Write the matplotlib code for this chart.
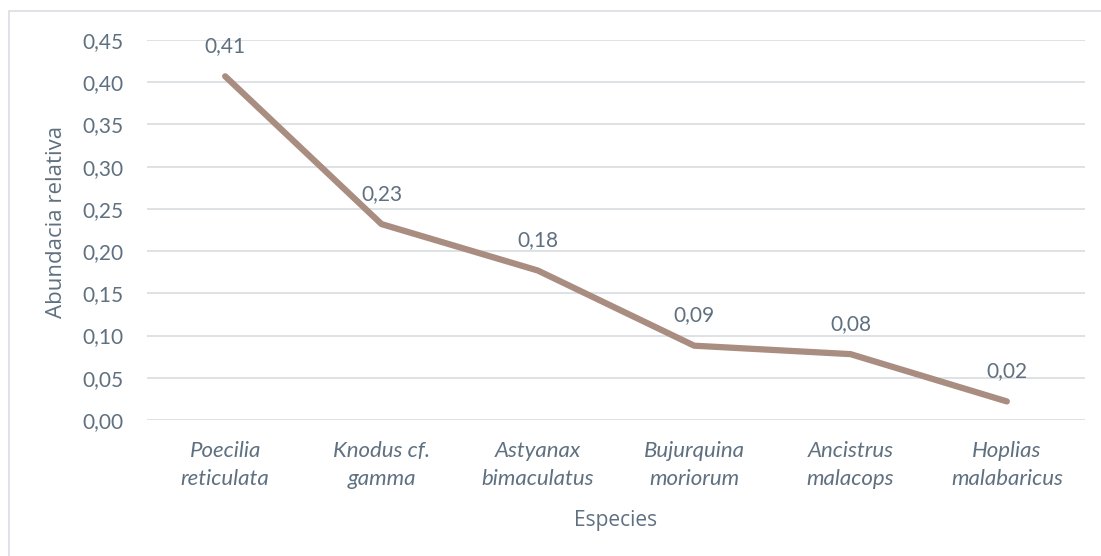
import matplotlib
matplotlib.use("Agg")
import matplotlib.pyplot as plt
from matplotlib.patches import Rectangle

species = ["Poecilia\nreticulata", "Knodus cf.\ngamma", "Astyanax\nbimaculatus",
           "Bujurquina\nmoriorum", "Ancistrus\nmalacops", "Hoplias\nmalabaricus"]
abundance = [0.407, 0.232, 0.177, 0.088, 0.078, 0.022]
labels = ["0,41", "0,23", "0,18", "0,09", "0,08", "0,02"]
yticks = [0.00, 0.05, 0.10, 0.15, 0.20, 0.25, 0.30, 0.35, 0.40, 0.45]

txt = "#5F7080"
plt.rcParams['font.family'] = ['Lato', 'DejaVu Sans']

W, H = 1101, 556
fig = plt.figure(figsize=(W/100, H/100), dpi=100)
fig.patches.append(Rectangle((9/W, -0.1), 1.2, 1 - 11/H + 0.1, transform=fig.transFigure,
                             fill=False, edgecolor="#D9DDE1", linewidth=1.2))
ax = fig.add_axes([147/W, 1 - 420/H, (1085 - 147)/W, (420 - 40)/H])

x = list(range(len(species)))
ax.plot(x, abundance, color="#A88D80", linewidth=4.5, solid_capstyle="round", solid_joinstyle="round", zorder=3)
for xi, v, l in zip(x, abundance, labels):
    ax.annotate(l, (xi, v), xytext=(0, 14.5), textcoords="offset points", ha="center", va="bottom",
                fontsize=15, color=txt)

ax.set_xlim(-0.5, len(species) - 0.5)
ax.set_ylim(0, 0.45)
ax.set_yticks(yticks)
ax.set_yticklabels([f"{t:.2f}".replace(".", ",") for t in yticks])
ax.set_xticks(x)
ax.set_xticklabels(species, fontstyle="italic", fontsize=16, color=txt, linespacing=1.5)
ax.tick_params(axis="y", labelsize=15, labelcolor=txt, length=0, pad=17)
ax.tick_params(axis="x", length=0, pad=15)
ax.grid(axis="y", color="#DCDFE3", linewidth=1.3)
ax.set_axisbelow(True)
for s in ax.spines.values():
    s.set_visible(False)
ax.set_ylabel("Abundacia relativa", fontsize=16, color=txt, family=["Open Sans", "DejaVu Sans"],
              va="center")
ax.yaxis.set_label_coords((57 - 147) / 938, 0.52)
ax.set_xlabel("Especies", fontsize=15, color=txt, labelpad=15, family=["Open Sans", "DejaVu Sans"])

fig.savefig("out.png", dpi=100)
